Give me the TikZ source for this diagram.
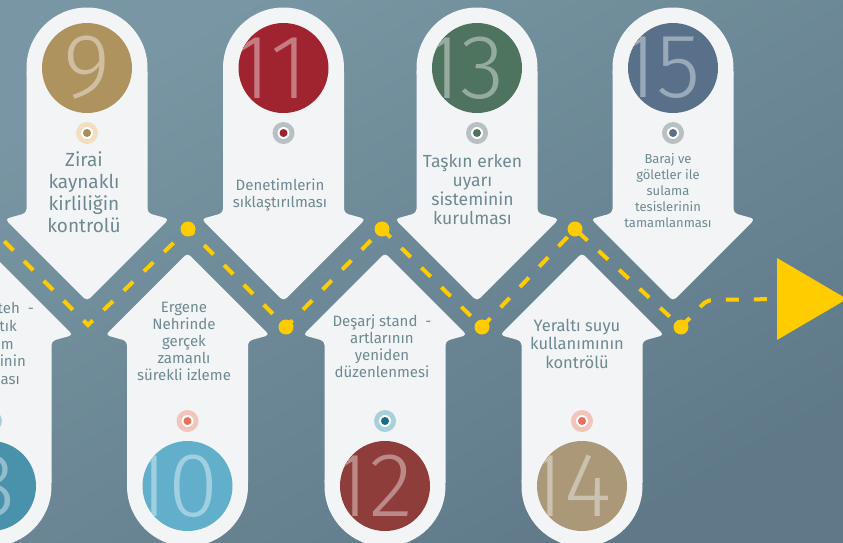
\documentclass[tikz,border=0pt]{standalone}
\usepackage{fontspec}
\setmainfont{Fira Sans}
\newfontfamily\numfont{Fira Sans Light}
\usetikzlibrary{calc}

\definecolor{bgtop}{RGB}{120,150,163}
\definecolor{bgbot}{RGB}{95,121,136}
\definecolor{cardwhite}{RGB}{242,244,245}
\definecolor{roadyellow}{RGB}{255,204,0}
\definecolor{labeltext}{RGB}{108,138,146}
\definecolor{disceight}{RGB}{74,145,172}
\definecolor{discnine}{RGB}{175,147,95}
\definecolor{discten}{RGB}{98,175,203}
\definecolor{disceleven}{RGB}{160,35,48}
\definecolor{disctwelve}{RGB}{142,61,58}
\definecolor{discthirteen}{RGB}{78,115,94}
\definecolor{discfourteen}{RGB}{170,152,120}
\definecolor{discfifteen}{RGB}{88,112,138}
\definecolor{ringgray}{RGB}{184,192,196}
\definecolor{ringsand}{RGB}{243,222,192}
\definecolor{ringpink}{RGB}{242,196,186}
\definecolor{ringblue}{RGB}{168,208,220}
\definecolor{dotsand}{RGB}{168,140,90}
\definecolor{dotcoral}{RGB}{232,112,92}
\definecolor{dotteal}{RGB}{20,110,140}

\pgfdeclarelayer{backdrop}
\pgfdeclarelayer{roadlayer}
\pgfsetlayers{backdrop,roadlayer,main}

\tikzset{
  card/.style={fill=cardwhite, rounded corners=4pt},
  numdisc/.style={circle, inner sep=0pt, minimum size=90pt},
  numtext/.style={text=white, text opacity=0.4, inner sep=0pt,
    font=\numfont\fontsize{91}{91}\selectfont},
  ring/.style 2 args={circle, inner sep=0pt, minimum size=22pt, fill=#1,
    path picture={\fill[white] (path picture bounding box.center) circle (6pt);
      \fill[#2] (path picture bounding box.center) circle (4pt);}},
  yeldot/.style={circle, fill=roadyellow, inner sep=0pt, minimum size=15pt},
  roadline/.style={draw=roadyellow, line width=4pt, dash pattern=on 13pt off 15pt, dash phase=13.5pt},
  lbl/.style={text=labeltext, align=center, inner sep=0pt, anchor=base},
  cutlbl/.style={text=labeltext, inner sep=0pt, anchor=base east, font=\fontsize{15}{17}\selectfont},
}

\begin{document}
\begin{tikzpicture}[x=1pt,y=-1pt]
\useasboundingbox (0,0) rectangle (843,542);

\begin{pgfonlayer}{backdrop}
\shade[top color=bgtop, bottom color=bgbot, shading angle=30] (0,0) rectangle (843,542);

% cards pointing down
\fill[card] (87,68) circle (60.5);
\fill[card] (87,68) ++(-60.5,0) -- ++(0,145) -- ++(-21.5,6) -- ++(82,82) -- ++(82,-82) -- ++(-21.5,-6) -- ++(0,-145) -- cycle;
\fill[card] (283.5,68) circle (60.5);
\fill[card] (283.5,68) ++(-60.5,0) -- ++(0,145) -- ++(-21.5,6) -- ++(82,82) -- ++(82,-82) -- ++(-21.5,-6) -- ++(0,-145) -- cycle;
\fill[card] (477,68) circle (60.5);
\fill[card] (477,68) ++(-60.5,0) -- ++(0,145) -- ++(-21.5,6) -- ++(82,82) -- ++(82,-82) -- ++(-21.5,-6) -- ++(0,-145) -- cycle;
\fill[card] (673,68) circle (60.5);
\fill[card] (673,68) ++(-60.5,0) -- ++(0,145) -- ++(-21.5,6) -- ++(82,82) -- ++(82,-82) -- ++(-21.5,-6) -- ++(0,-145) -- cycle;

% cards pointing up
\fill[card] (-9,486) circle (60.5);
\fill[card] (-9,486) ++(-60.5,0) -- ++(0,-145) -- ++(-21.5,-6) -- ++(82,-82) -- ++(82,82) -- ++(-21.5,6) -- ++(0,145) -- cycle;
\fill[card] (187.5,486) circle (60.5);
\fill[card] (187.5,486) ++(-60.5,0) -- ++(0,-145) -- ++(-21.5,-6) -- ++(82,-82) -- ++(82,82) -- ++(-21.5,6) -- ++(0,145) -- cycle;
\fill[card] (385,486) circle (60.5);
\fill[card] (385,486) ++(-60.5,0) -- ++(0,-145) -- ++(-21.5,-6) -- ++(82,-82) -- ++(82,82) -- ++(-21.5,6) -- ++(0,145) -- cycle;
\fill[card] (582,486) circle (60.5);
\fill[card] (582,486) ++(-60.5,0) -- ++(0,-145) -- ++(-21.5,-6) -- ++(82,-82) -- ++(82,82) -- ++(-21.5,6) -- ++(0,145) -- cycle;
\end{pgfonlayer}

% road
\coordinate (s0) at (-6,231);
\coordinate (v0) at (88,325);
\node[yeldot] (d1) at (188,229) {};
\node[yeldot] (d2) at (286,327) {};
\node[yeldot] (d3) at (382,229) {};
\node[yeldot] (d4) at (482,327) {};
\node[yeldot] (d5) at (575,229) {};
\node[yeldot] (d6) at (681,327) {};
\coordinate (b0) at (707,300);
\coordinate (goal) at (777,299);
\begin{pgfonlayer}{roadlayer}
\draw[roadline] (s0) -- (v0) -- (d1.center) -- (d2.center) -- (d3.center) -- (d4.center) -- (d5.center) -- (d6.center) [rounded corners=6pt] -- (b0) -- (goal);
\end{pgfonlayer}
\fill[roadyellow] (goal) -- ++(0,-41) -- ++(70,41) -- ++(-70,41) -- cycle;

% number discs
\node[numdisc, fill=discnine, path picture={\node[numtext] (num9) at (path picture bounding box.center) {9};}] (n9) at (87,68) {};
\node[numdisc, fill=disceleven, path picture={\node[numtext] (num11) at ([xshift=-13pt]path picture bounding box.center) {11};}] (n11) at (283.5,68) {};
\node[numdisc, fill=discthirteen, path picture={\node[numtext] (num13) at ([xshift=-13pt]path picture bounding box.center) {13};}] (n13) at (477,68) {};
\node[numdisc, fill=discfifteen, path picture={\node[numtext] (num15) at ([xshift=-13pt]path picture bounding box.center) {15};}] (n15) at (673,68) {};
\node[numdisc, fill=disceight, path picture={\node[numtext] (num8) at (path picture bounding box.center) {8};}] (n8) at (-9,486) {};
\node[numdisc, fill=discten, path picture={\node[numtext] (num10) at ([xshift=-13pt]path picture bounding box.center) {10};}] (n10) at (187.5,486) {};
\node[numdisc, fill=disctwelve, path picture={\node[numtext] (num12) at ([xshift=-13pt]path picture bounding box.center) {12};}] (n12) at (385,486) {};
\node[numdisc, fill=discfourteen, path picture={\node[numtext] (num14) at ([xshift=-13pt]path picture bounding box.center) {14};}] (n14) at (582,486) {};

% small rings
\node[ring={ringsand}{dotsand}] (r9) at (87,133) {};
\node[ring={ringgray}{disceleven}] (r11) at (283.5,133) {};
\node[ring={ringgray}{discthirteen}] (r13) at (477,133) {};
\node[ring={ringgray}{discfifteen}] (r15) at (673,133) {};
\node[ring={ringblue}{dotteal}] (r8) at (-9,421) {};
\node[ring={ringpink}{dotcoral}] (r10) at (187.5,421) {};
\node[ring={ringblue}{dotteal}] (r12) at (385,421) {};
\node[ring={ringpink}{dotcoral}] (r14) at (582,421) {};

% labels (base = last line)
\node[lbl, font=\fontsize{19}{21.7}\selectfont] (t9) at (84,232) {Zirai\\kaynaklı\\kirliliğin\\kontrolü};
\node[lbl, font=\fontsize{15}{17.5}\selectfont] (t11) at (280,207.5) {Denetimlerin\\sıklaştırılması};
\node[lbl, font=\fontsize{17.5}{19}\selectfont] (t13) at (472.5,224) {Taşkın erken\\uyarı\\sisteminin\\kurulması};
\node[lbl, font=\fontsize{13}{16}\selectfont] (t15) at (668,227.5) {Baraj ve\\göletler ile\\sulama\\tesislerinin\\tamamlanması};
\node[lbl, font=\fontsize{15}{17}\selectfont] (t10) at (184,380.7) {Ergene\\Nehrinde\\gerçek\\zamanlı\\sürekli izleme};
\node[lbl, font=\fontsize{15}{17}\selectfont] (t12) at (382,377) {Deşarj stand~~-\\artlarının\\yeniden\\düzenlenmesi};
\node[lbl, font=\fontsize{16.5}{18.5}\selectfont] (t14) at (577,368) {Yeraltı suyu\\kullanımının\\kontrölü};
\node[cutlbl] (t8a) at (34,313) {teh~~-};
\node[cutlbl] (t8b) at (17,331.7) {tık};
\node[cutlbl] (t8c) at (14,349) {im};
\node[cutlbl] (t8d) at (26,366.7) {rinin};
\node[cutlbl] (t8e) at (20,384) {ası};

\end{tikzpicture}
\end{document}
